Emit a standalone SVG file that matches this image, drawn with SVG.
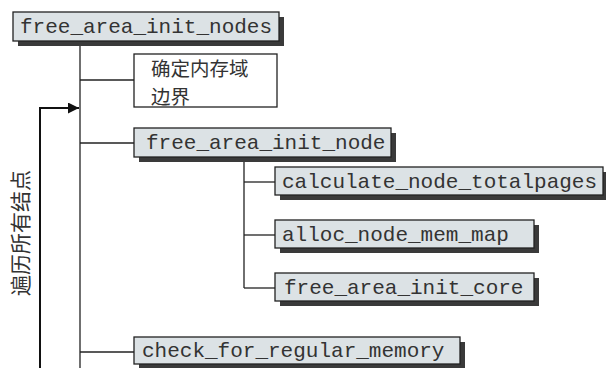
<svg xmlns="http://www.w3.org/2000/svg" width="606" height="368" viewBox="0 0 606 368">
<defs>
<style>
.box{fill:#dce2e5;stroke:#222;stroke-width:1.3}
.sh{fill:#3a3a3a}
.wb{fill:#fff;stroke:#222;stroke-width:1.3}
.t{font-family:"Liberation Mono",monospace;font-size:21px;fill:#333}
.c{font-family:"Noto Sans CJK SC",sans-serif;font-size:21px;fill:#333}
.ln{stroke:#222;stroke-width:1.3;fill:none}
</style>
<marker id="ah" viewBox="0 0 10 10" refX="10" refY="5" markerWidth="11" markerHeight="11" markerUnits="userSpaceOnUse" orient="auto">
<path d="M0,0 L10,5 L0,10 Z" fill="#111"/>
</marker>
</defs>
<rect width="606" height="368" fill="#fff"/>
<g id="connectors">
<line class="ln" x1="80" y1="41" x2="80" y2="368"/>
<line class="ln" x1="80" y1="80" x2="134" y2="80"/>
<line class="ln" x1="80" y1="143" x2="134" y2="143"/>
<line class="ln" x1="80" y1="352" x2="134" y2="352"/>
<line class="ln" x1="244" y1="158" x2="244" y2="288"/>
<line class="ln" x1="244" y1="182" x2="275" y2="182"/>
<line class="ln" x1="244" y1="235" x2="275" y2="235"/>
<line class="ln" x1="244" y1="288" x2="275" y2="288"/>
<path d="M40,368 L40,108 L79,108" stroke="#111" stroke-width="2" fill="none" marker-end="url(#ah)"/>
</g>
<g id="n1">
<rect class="sh" x="18" y="17" width="266" height="29"/>
<rect class="box" x="13" y="12" width="266" height="29"/>
<text class="t" x="20" y="33">free_area_init_nodes</text>
</g>
<g id="n2">
<rect class="wb" x="134" y="54" width="143" height="53"/>
<text class="c" style="font-size:19.5px"><tspan x="151" y="76">确定内存域</tspan><tspan x="151" y="104">边界</tspan></text>
</g>
<g id="n3">
<rect class="sh" x="139" y="133" width="257" height="29"/>
<rect class="box" x="134" y="128" width="257" height="29"/>
<text class="t" x="146" y="149">free_area_init_node</text>
</g>
<g id="n4">
<rect class="sh" x="280" y="172" width="330" height="28"/>
<rect class="box" x="275" y="167" width="328" height="28"/>
<text class="t" x="282" y="188">calculate_node_totalpages</text>
</g>
<g id="n5">
<rect class="sh" x="280" y="225" width="259" height="28"/>
<rect class="box" x="275" y="220" width="259" height="28"/>
<text class="t" x="282" y="241">alloc_node_mem_map</text>
</g>
<g id="n6">
<rect class="sh" x="280" y="278" width="259" height="28"/>
<rect class="box" x="275" y="273" width="259" height="28"/>
<text class="t" x="284" y="294">free_area_init_core</text>
</g>
<g id="n7">
<rect class="sh" x="139" y="342" width="326" height="28"/>
<rect class="box" x="134" y="337" width="326" height="27"/>
<text class="t" x="142" y="357">check_for_regular_memory</text>
</g>
<text class="c" transform="translate(28,233) rotate(-90)" text-anchor="middle">遍历所有结点</text>
</svg>
